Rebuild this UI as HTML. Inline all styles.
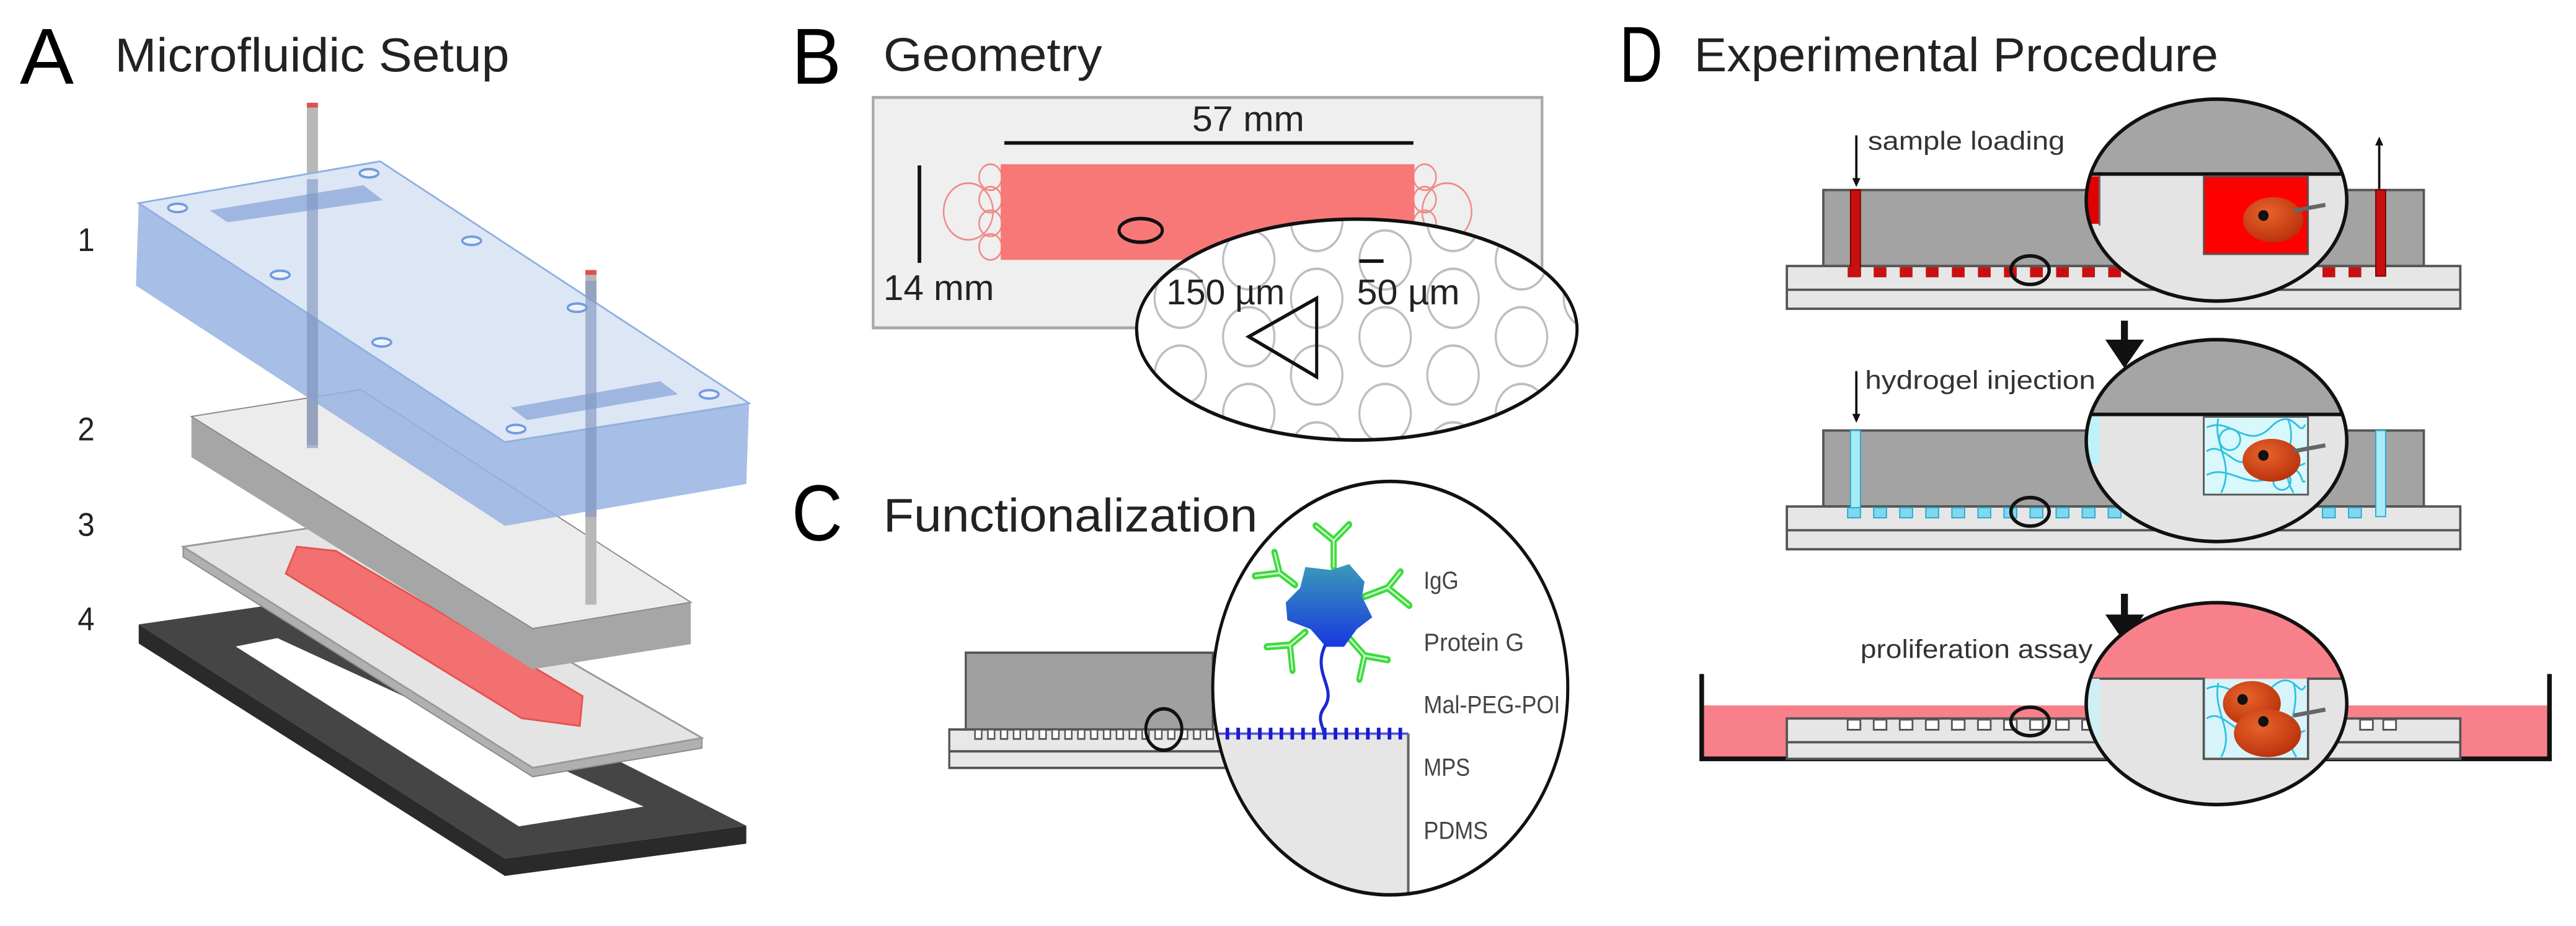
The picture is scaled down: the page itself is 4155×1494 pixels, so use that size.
<!DOCTYPE html>
<html><head><meta charset="utf-8"><style>
html,body{margin:0;padding:0;background:#fff;}
svg{display:block;}
text{font-family:"Liberation Sans",sans-serif;}
</style></head><body>
<svg width="4155" height="1494" viewBox="0 0 4155 1494" xmlns="http://www.w3.org/2000/svg">
<defs>
<pattern id="circ" x="210" y="50" width="265" height="130" patternUnits="userSpaceOnUse">
<g fill="none" stroke="#bdbdbd" stroke-width="4">
<circle cx="0" cy="0" r="50"/><circle cx="265" cy="0" r="50"/><circle cx="0" cy="130" r="50"/><circle cx="265" cy="130" r="50"/><circle cx="132" cy="65" r="50"/></g></pattern>
<pattern id="pil" x="200" y="1235" width="25" height="20" patternUnits="userSpaceOnUse">
<rect x="8" y="0" width="13" height="16" fill="#fff" stroke="#555" stroke-width="3"/></pattern>
<clipPath id="cB"><ellipse cx="950" cy="558" rx="428" ry="187"/></clipPath>
<clipPath id="cC"><ellipse cx="1015" cy="1165" rx="345" ry="350"/></clipPath>
<clipPath id="cD1"><ellipse cx="937" cy="337" rx="225" ry="170"/></clipPath>
<clipPath id="cD2"><ellipse cx="937" cy="742" rx="225" ry="170"/></clipPath>
<clipPath id="cD3"><ellipse cx="937" cy="1185" rx="225" ry="170"/></clipPath>
<linearGradient id="pg" x1="0" y1="0" x2="0" y2="1"><stop offset="0" stop-color="#3a9ab8"/><stop offset="1" stop-color="#1838e0"/></linearGradient>
<radialGradient id="cell" cx="0.4" cy="0.35" r="0.7"><stop offset="0" stop-color="#e8642a"/><stop offset="1" stop-color="#b8300c"/></radialGradient>
</defs>

<!-- Letters -->
<text x="32" y="135" font-size="128" textLength="87" lengthAdjust="spacingAndGlyphs">A</text>
<text x="1277" y="135" font-size="128" textLength="80" lengthAdjust="spacingAndGlyphs">B</text>
<text x="1277" y="872" font-size="128" textLength="82" lengthAdjust="spacingAndGlyphs">C</text>
<text x="2612" y="132" font-size="128" textLength="70" lengthAdjust="spacingAndGlyphs">D</text>

<!-- PANEL A -->
<g transform="scale(0.895,0.964)">
<text x="207" y="120" font-size="80" textLength="711" lengthAdjust="spacingAndGlyphs" fill="#222">Microfluidic Setup</text>
<g font-size="55" fill="#222"><text x="140" y="420">1</text><text x="140" y="737">2</text><text x="140" y="897">3</text><text x="140" y="1055">4</text></g>
<!-- gasket -->
<polygon points="250,1045 910,1437 1345,1382 1345,1412 910,1466 250,1077" fill="#2a2a2a"/>
<polygon points="250,1045 545,1005 1345,1382 910,1437" fill="#454545"/>
<polygon points="425,1082 500,1068 1160,1350 935,1383" fill="#fff"/>
<!-- slide 3 -->
<polygon points="330,915 960,1285 1265,1235 1265,1252 960,1300 330,932" fill="#b0b0b0" stroke="#888" stroke-width="2"/>
<polygon points="330,915 600,878 1265,1235 960,1285" fill="#e4e4e4" stroke="#999" stroke-width="3"/>
<polygon points="515,960 535,915 605,922 1050,1165 1045,1215 940,1202" fill="#f37070" stroke="#e85050" stroke-width="3"/>
<!-- plate 2 -->
<polygon points="345,697 960,1052 1245,1008 1245,1078 960,1120 345,765" fill="#a6a6a6"/>
<polygon points="345,697 650,652 1245,1008 960,1052" fill="#ececec" stroke="#888" stroke-width="2"/>
<!-- rods -->
<rect x="553" y="172" width="20" height="573" fill="#b8b8b8"/><rect x="553" y="172" width="20" height="8" fill="#e05050"/>
<rect x="1055" y="452" width="20" height="560" fill="#b8b8b8"/><rect x="1055" y="452" width="20" height="8" fill="#e05050"/>
<!-- blue block -->
<polygon points="250,340 910,740 910,880 245,478" fill="#98b3e2" fill-opacity="0.85"/>
<polygon points="910,740 1350,675 1345,810 910,880" fill="#98b3e2" fill-opacity="0.85"/>
<polygon points="250,340 685,270 1350,675 910,740" fill="#d9e3f3" fill-opacity="0.9" stroke="#8fb0e3" stroke-width="3"/>
<polygon points="378,352 655,310 690,335 410,372" fill="#9fb6e0"/>
<polygon points="920,682 1190,638 1222,660 950,703" fill="#9fb6e0"/>
<rect x="553" y="300" width="20" height="450" fill="#7f95bf" fill-opacity="0.6"/>
<rect x="1055" y="470" width="20" height="395" fill="#7f95bf" fill-opacity="0.6"/>
<g fill="#eef2fa" stroke="#6f9be0" stroke-width="4">
<ellipse cx="320" cy="348" rx="17" ry="7"/><ellipse cx="665" cy="290" rx="17" ry="7"/><ellipse cx="850" cy="403" rx="17" ry="7"/><ellipse cx="505" cy="460" rx="17" ry="7"/><ellipse cx="1040" cy="515" rx="17" ry="7"/><ellipse cx="688" cy="573" rx="17" ry="7"/><ellipse cx="1278" cy="660" rx="17" ry="7"/><ellipse cx="930" cy="718" rx="17" ry="7"/></g>
</g>

<!-- PANEL B & C -->
<g transform="translate(1400,0) scale(0.83,0.953)">
<text x="30" y="120" font-size="80" textLength="425" lengthAdjust="spacingAndGlyphs" fill="#222">Geometry</text>
<rect x="10" y="165" width="1300" height="390" fill="#efefef" stroke="#a8a8a8" stroke-width="5"/>
<text x="630" y="222" font-size="60" textLength="218" lengthAdjust="spacingAndGlyphs" fill="#222">57 mm</text>
<line x1="265" y1="242" x2="1060" y2="242" stroke="#111" stroke-width="6"/>
<line x1="100" y1="280" x2="100" y2="445" stroke="#111" stroke-width="7"/>
<text x="30" y="508" font-size="60" textLength="215" lengthAdjust="spacingAndGlyphs" fill="#222">14 mm</text>
<g fill="none" stroke="#f08a8a" stroke-width="3">
<circle cx="238" cy="300" r="22"/><circle cx="238" cy="338" r="22"/><circle cx="238" cy="378" r="22"/><circle cx="238" cy="418" r="22"/><circle cx="195" cy="358" r="48"/>
<circle cx="1082" cy="300" r="22"/><circle cx="1082" cy="338" r="22"/><circle cx="1082" cy="378" r="22"/><circle cx="1125" cy="358" r="48"/></g>
<rect x="258" y="278" width="804" height="162" fill="#f87878"/>
<ellipse cx="530" cy="390" rx="42" ry="20" fill="none" stroke="#111" stroke-width="6"/>
<ellipse cx="950" cy="558" rx="428" ry="187" fill="#fff"/>
<rect x="500" y="360" width="900" height="400" fill="url(#circ)" clip-path="url(#cB)"/>
<ellipse cx="950" cy="558" rx="428" ry="187" fill="none" stroke="#111" stroke-width="6"/>
<polygon points="740,570 872,505 872,638" fill="none" stroke="#111" stroke-width="6"/>
<text x="580" y="515" font-size="60" textLength="230" lengthAdjust="spacingAndGlyphs" fill="#222">150 µm</text>
<text x="950" y="515" font-size="60" textLength="200" lengthAdjust="spacingAndGlyphs" fill="#222">50 µm</text>
<line x1="955" y1="442" x2="1002" y2="442" stroke="#111" stroke-width="6"/>

<text x="30" y="900" font-size="80" textLength="727" lengthAdjust="spacingAndGlyphs" fill="#222">Functionalization</text>
<rect x="190" y="1105" width="480" height="130" fill="#a0a0a0" stroke="#555" stroke-width="4"/>
<rect x="158" y="1235" width="540" height="65" fill="#e8e8e8" stroke="#555" stroke-width="4"/>
<line x1="158" y1="1272" x2="698" y2="1272" stroke="#555" stroke-width="4"/>
<rect x="200" y="1235" width="480" height="18" fill="url(#pil)"/>
<circle cx="575" cy="1235" r="35" fill="none" stroke="#111" stroke-width="6"/>
<ellipse cx="1015" cy="1165" rx="345" ry="350" fill="#fff"/>
<g clip-path="url(#cC)">
<rect x="660" y="1242" width="390" height="290" fill="#e6e6e6"/>
<line x1="1050" y1="1242" x2="1050" y2="1530" stroke="#666" stroke-width="5"/>
<line x1="680" y1="1242" x2="1050" y2="1242" stroke="#5555dd" stroke-width="4"/>
<line x1="695" y1="1242" x2="1050" y2="1242" stroke="#1a1ad0" stroke-width="20" stroke-dasharray="7 14"/>
</g>
<ellipse cx="1015" cy="1165" rx="345" ry="350" fill="none" stroke="#111" stroke-width="6"/>
<path d="M890,1090 C860,1140 915,1165 885,1200 C870,1220 890,1235 885,1245" fill="none" stroke="#1a2ad0" stroke-width="6"/>
<g stroke="#3ddc3d" stroke-width="12" fill="none" stroke-linecap="round">
<path d="M905,960 L905,915 L870,890 M905,915 L935,888"/>
<path d="M830,990 L800,970 L790,935 M800,970 L752,975"/>
<path d="M965,1010 L1010,995 L1035,968 M1010,995 L1052,1025"/>
<path d="M850,1070 L820,1092 L775,1095 M820,1092 L825,1135"/>
<path d="M935,1080 L965,1110 L1010,1117 M965,1110 L955,1150"/>
</g>
<g stroke="#d6f8d6" stroke-width="3" fill="none">
<path d="M905,960 L905,915 L870,890 M905,915 L935,888"/>
<path d="M830,990 L800,970 L790,935 M800,970 L752,975"/>
<path d="M965,1010 L1010,995 L1035,968 M1010,995 L1052,1025"/>
<path d="M850,1070 L820,1092 L775,1095 M820,1092 L825,1135"/>
<path d="M935,1080 L965,1110 L1010,1117 M965,1110 L955,1150"/>
</g>
<path d="M850,960 L900,965 L935,955 L965,985 L960,1010 L980,1045 L950,1065 L925,1095 L890,1095 L860,1065 L815,1050 L812,1020 L840,995 Z" fill="url(#pg)"/>
<g font-size="42" fill="#444">
<text x="1080" y="997">IgG</text>
<text x="1080" y="1102" textLength="195" lengthAdjust="spacingAndGlyphs">Protein G</text>
<text x="1080" y="1207" textLength="265" lengthAdjust="spacingAndGlyphs">Mal-PEG-POI</text>
<text x="1080" y="1313" textLength="90" lengthAdjust="spacingAndGlyphs">MPS</text>
<text x="1080" y="1420" textLength="125" lengthAdjust="spacingAndGlyphs">PDMS</text>
</g>
</g>

<!-- PANEL D -->
<g transform="translate(2700,0) scale(0.934,0.958)">
<text x="35" y="120" font-size="80" textLength="905" lengthAdjust="spacingAndGlyphs" fill="#222">Experimental Procedure</text>

<!-- Row 1 -->
<rect x="258" y="320" width="1037" height="128" fill="#a3a3a3" stroke="#555" stroke-width="4"/>
<rect x="195" y="448" width="1163" height="72" fill="#e6e6e6" stroke="#555" stroke-width="4"/>
<line x1="195" y1="488" x2="1358" y2="488" stroke="#555" stroke-width="4"/>
<rect x="305" y="320" width="17" height="145" fill="#c81010" stroke="#700" stroke-width="2"/>
<rect x="1212" y="320" width="17" height="145" fill="#c81010" stroke="#700" stroke-width="2"/>
<g fill="#c81010">
<rect x="300" y="450" width="22" height="17"/><rect x="345" y="450" width="22" height="17"/><rect x="390" y="450" width="22" height="17"/><rect x="435" y="450" width="22" height="17"/><rect x="480" y="450" width="22" height="17"/><rect x="525" y="450" width="22" height="17"/><rect x="570" y="450" width="22" height="17"/><rect x="615" y="450" width="22" height="17"/><rect x="660" y="450" width="22" height="17"/><rect x="705" y="450" width="22" height="17"/><rect x="750" y="450" width="22" height="17"/><rect x="1120" y="450" width="22" height="17"/><rect x="1165" y="450" width="22" height="17"/></g>
<line x1="315" y1="228" x2="315" y2="305" stroke="#111" stroke-width="4"/><polygon points="308,300 322,300 315,315" fill="#111"/>
<line x1="1218" y1="245" x2="1218" y2="318" stroke="#111" stroke-width="4"/><polygon points="1211,245 1225,245 1218,230" fill="#111"/>
<text x="335" y="252" font-size="44" textLength="340" lengthAdjust="spacingAndGlyphs" fill="#333">sample loading</text>
<ellipse cx="615" cy="455" rx="33" ry="24" fill="none" stroke="#111" stroke-width="6"/>
<g clip-path="url(#cD1)">
<rect x="700" y="160" width="480" height="360" fill="#e4e4e4"/>
<rect x="700" y="160" width="480" height="133" fill="#a5a5a5"/>
<line x1="700" y1="293" x2="1180" y2="293" stroke="#111" stroke-width="6"/>
<rect x="705" y="297" width="30" height="80" fill="#e00000"/>
<line x1="735" y1="296" x2="735" y2="380" stroke="#666" stroke-width="3"/>
<rect x="915" y="297" width="180" height="131" fill="#ff0000" stroke="#555" stroke-width="3"/>
<ellipse cx="1035" cy="370" rx="52" ry="38" fill="url(#cell)"/>
<circle cx="1018" cy="363" r="9" fill="#111"/>
<line x1="1070" y1="355" x2="1125" y2="345" stroke="#666" stroke-width="7"/>
</g>
<ellipse cx="937" cy="337" rx="225" ry="170" fill="none" stroke="#111" stroke-width="6"/>

<!-- arrow 1 -->
<line x1="778" y1="540" x2="778" y2="580" stroke="#111" stroke-width="12"/><polygon points="745,572 812,572 778,620" fill="#111"/>

<!-- Row 2 -->
<rect x="258" y="725" width="1037" height="128" fill="#a3a3a3" stroke="#555" stroke-width="4"/>
<rect x="195" y="853" width="1163" height="72" fill="#e6e6e6" stroke="#555" stroke-width="4"/>
<line x1="195" y1="893" x2="1358" y2="893" stroke="#555" stroke-width="4"/>
<rect x="305" y="725" width="17" height="145" fill="#a8ecf7" stroke="#2aa8c8" stroke-width="2"/>
<rect x="1212" y="725" width="17" height="145" fill="#a8ecf7" stroke="#2aa8c8" stroke-width="2"/>
<g fill="#7fd8f0" stroke="#2aa8c8" stroke-width="2">
<rect x="300" y="855" width="22" height="17"/><rect x="345" y="855" width="22" height="17"/><rect x="390" y="855" width="22" height="17"/><rect x="435" y="855" width="22" height="17"/><rect x="480" y="855" width="22" height="17"/><rect x="525" y="855" width="22" height="17"/><rect x="570" y="855" width="22" height="17"/><rect x="615" y="855" width="22" height="17"/><rect x="660" y="855" width="22" height="17"/><rect x="705" y="855" width="22" height="17"/><rect x="750" y="855" width="22" height="17"/><rect x="1120" y="855" width="22" height="17"/><rect x="1165" y="855" width="22" height="17"/></g>
<line x1="315" y1="625" x2="315" y2="702" stroke="#111" stroke-width="4"/><polygon points="308,697 322,697 315,712" fill="#111"/>
<text x="330" y="655" font-size="44" textLength="398" lengthAdjust="spacingAndGlyphs" fill="#333">hydrogel injection</text>
<ellipse cx="615" cy="862" rx="33" ry="24" fill="none" stroke="#111" stroke-width="6"/>
<g clip-path="url(#cD2)">
<rect x="700" y="565" width="480" height="360" fill="#e4e4e4"/>
<rect x="700" y="565" width="480" height="133" fill="#a5a5a5"/>
<line x1="700" y1="698" x2="1180" y2="698" stroke="#111" stroke-width="6"/>
<rect x="705" y="702" width="30" height="80" fill="#bdf2f8"/>
<rect x="915" y="702" width="180" height="131" fill="#d8f8fb" stroke="#555" stroke-width="3"/>
<g fill="none" stroke="#30c0e0" stroke-width="3">
<path d="M920,720 C960,700 990,760 1030,720 S1080,740 1090,715"/>
<path d="M920,760 C950,740 970,800 1000,770 S1060,800 1090,780"/>
<path d="M920,800 C960,780 990,830 1040,800 S1080,820 1090,810"/>
<path d="M940,705 C930,750 970,780 945,830"/>
<path d="M1060,705 C1080,750 1040,780 1070,830"/>
<circle cx="960" cy="740" r="18"/><circle cx="1050" cy="810" r="15"/>
</g>
<ellipse cx="1032" cy="775" rx="50" ry="36" fill="url(#cell)"/>
<circle cx="1018" cy="767" r="9" fill="#111"/>
<line x1="1070" y1="760" x2="1125" y2="750" stroke="#666" stroke-width="7"/>
</g>
<ellipse cx="937" cy="742" rx="225" ry="170" fill="none" stroke="#111" stroke-width="6"/>

<!-- arrow 2 -->
<line x1="778" y1="1000" x2="778" y2="1040" stroke="#111" stroke-width="12"/><polygon points="745,1035 812,1035 778,1082" fill="#111"/>

<!-- Row 3 -->
<rect x="52" y="1188" width="1456" height="88" fill="#f8808a"/>
<path d="M48,1135 V1278 H1512 V1135" fill="none" stroke="#111" stroke-width="8"/>
<rect x="195" y="1210" width="1163" height="68" fill="#e6e6e6" stroke="#555" stroke-width="4"/>
<line x1="195" y1="1250" x2="1358" y2="1250" stroke="#555" stroke-width="4"/>
<g fill="#fff" stroke="#555" stroke-width="3">
<rect x="300" y="1212" width="22" height="17"/><rect x="345" y="1212" width="22" height="17"/><rect x="390" y="1212" width="22" height="17"/><rect x="435" y="1212" width="22" height="17"/><rect x="480" y="1212" width="22" height="17"/><rect x="525" y="1212" width="22" height="17"/><rect x="570" y="1212" width="22" height="17"/><rect x="615" y="1212" width="22" height="17"/><rect x="660" y="1212" width="22" height="17"/><rect x="705" y="1212" width="22" height="17"/><rect x="1185" y="1212" width="22" height="17"/><rect x="1225" y="1212" width="22" height="17"/></g>
<text x="322" y="1108" font-size="44" textLength="401" lengthAdjust="spacingAndGlyphs" fill="#333">proliferation assay</text>
<ellipse cx="615" cy="1215" rx="33" ry="24" fill="none" stroke="#111" stroke-width="6"/>
<g clip-path="url(#cD3)">
<rect x="700" y="1010" width="480" height="360" fill="#e4e4e4"/>
<rect x="700" y="1010" width="480" height="133" fill="#f8808a"/>
<path d="M700,1143 H915 V1278 H1095 V1143 H1180" fill="none" stroke="#555" stroke-width="4"/>
<rect x="705" y="1143" width="30" height="120" fill="#cdeff6"/>
<rect x="917" y="1145" width="176" height="131" fill="#d8f4fb"/>
<g fill="none" stroke="#30c0e0" stroke-width="3">
<path d="M920,1160 C960,1140 990,1200 1030,1160 S1080,1180 1090,1155"/>
<path d="M920,1210 C950,1190 970,1250 1000,1220 S1060,1250 1090,1230"/>
<path d="M940,1150 C930,1200 970,1230 945,1275"/>
<path d="M1070,1150 C1085,1200 1045,1230 1075,1275"/>
</g>
<ellipse cx="998" cy="1185" rx="50" ry="38" fill="url(#cell)"/>
<circle cx="982" cy="1178" r="9" fill="#111"/>
<ellipse cx="1025" cy="1235" rx="58" ry="40" fill="url(#cell)"/>
<circle cx="1018" cy="1215" r="9" fill="#111"/>
<line x1="1070" y1="1205" x2="1125" y2="1195" stroke="#666" stroke-width="7"/>
</g>
<ellipse cx="937" cy="1185" rx="225" ry="170" fill="none" stroke="#111" stroke-width="6"/>
</g>
</svg>
</body></html>
